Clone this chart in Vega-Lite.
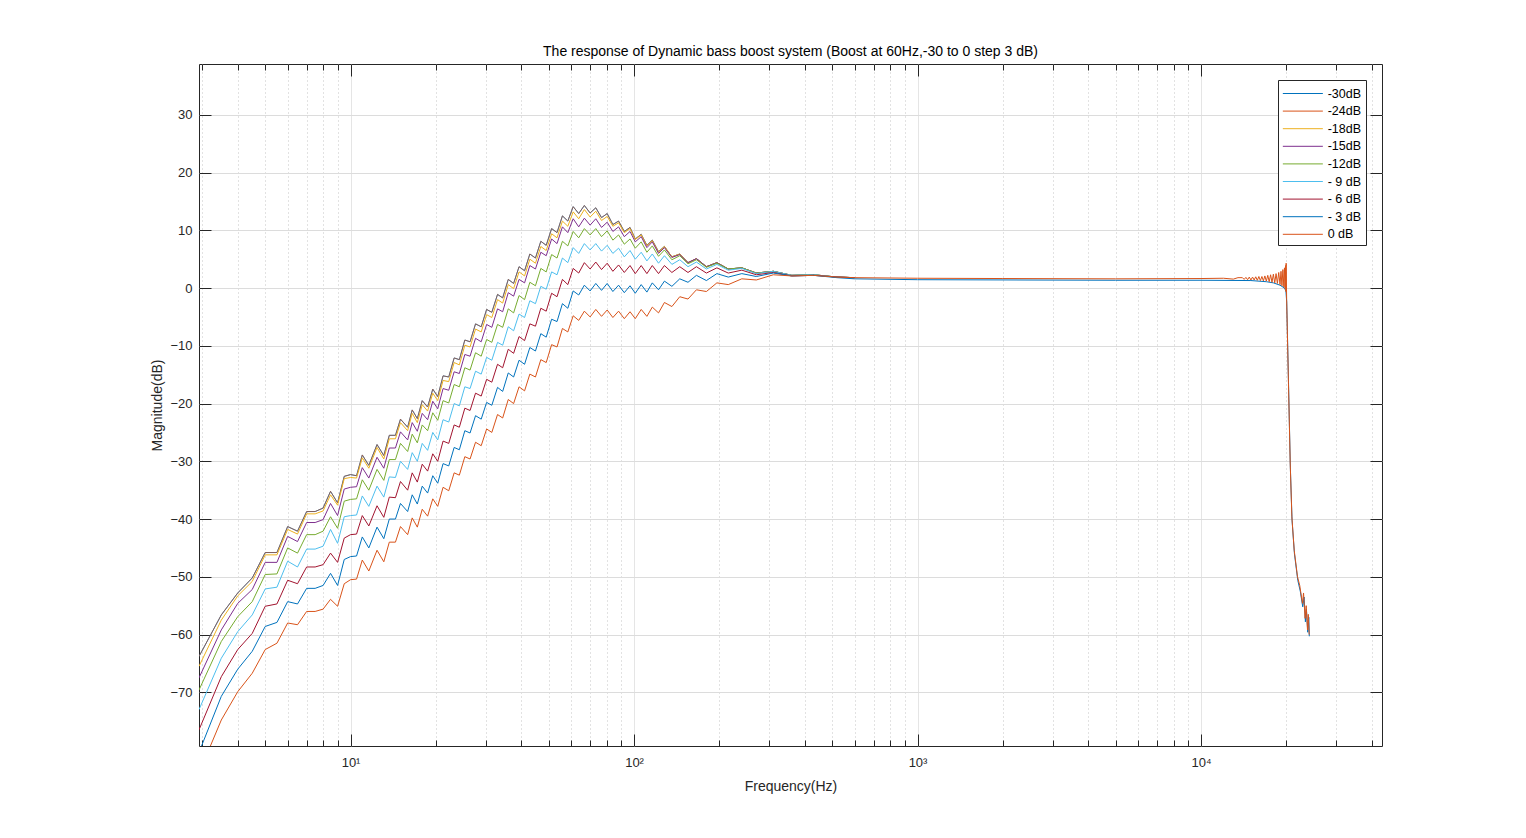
{
  "$schema": "https://vega.github.io/schema/vega-lite/v6.json",
  "width": 1183,
  "height": 682,
  "autosize": {"type": "none"},
  "padding": {"left": 199, "top": 64, "right": 144, "bottom": 92},
  "background": "white",
  "title": {
    "text": "The response of Dynamic bass boost system (Boost at 60Hz,-30 to 0 step 3 dB)",
    "font": "Liberation Sans",
    "fontSize": 14,
    "fontWeight": "normal",
    "color": "#000000",
    "offset": 5
  },
  "config": {
    "font": "Liberation Sans",
    "view": {"stroke": "#262626", "strokeWidth": 1},
    "axis": {
      "labelFont": "Liberation Sans",
      "titleFont": "Liberation Sans",
      "labelFontSize": 13,
      "titleFontSize": 14,
      "titleFontWeight": "normal",
      "labelColor": "#262626",
      "titleColor": "#262626",
      "tickColor": "#262626",
      "domain": false
    }
  },
  "layer": [
    {
      "data": {
        "values": [
          {"s":"-30dB","f":2.92,"db":-63.8},{"s":"-30dB","f":3.5,"db":-56.6},{"s":"-30dB","f":4,"db":-52.8},{"s":"-30dB","f":4.5,"db":-50.2},{"s":"-30dB","f":5,"db":-45.8},{"s":"-30dB","f":5.5,"db":-45.8},{"s":"-30dB","f":6,"db":-41.3},{"s":"-30dB","f":6.5,"db":-42.1},{"s":"-30dB","f":7,"db":-38.7},{"s":"-30dB","f":7.5,"db":-38.7},{"s":"-30dB","f":8,"db":-38.1},{"s":"-30dB","f":8.5,"db":-35.2},{"s":"-30dB","f":9,"db":-37.2},{"s":"-30dB","f":9.5,"db":-32.6},{"s":"-30dB","f":10,"db":-32.3},{"s":"-30dB","f":10.5,"db":-32.5},{"s":"-30dB","f":11,"db":-28.9},{"s":"-30dB","f":11.6,"db":-30.7},{"s":"-30dB","f":12.4,"db":-27.1},{"s":"-30dB","f":13.1,"db":-29.0},{"s":"-30dB","f":13.7,"db":-25.5},{"s":"-30dB","f":14.4,"db":-25.5},{"s":"-30dB","f":15,"db":-22.7},{"s":"-30dB","f":15.9,"db":-24.1},{"s":"-30dB","f":16.5,"db":-21.1},{"s":"-30dB","f":17.2,"db":-22.6},{"s":"-30dB","f":17.9,"db":-19.5},{"s":"-30dB","f":18.7,"db":-20.6},{"s":"-30dB","f":19.5,"db":-17.5},{"s":"-30dB","f":20.3,"db":-18.8},
          {"s":"-30dB","f":21.2,"db":-15.2},{"s":"-30dB","f":22.2,"db":-15.4},{"s":"-30dB","f":23.2,"db":-12.1},{"s":"-30dB","f":24.2,"db":-12.4},{"s":"-30dB","f":25.3,"db":-9.0},{"s":"-30dB","f":26.4,"db":-9.3},{"s":"-30dB","f":27.6,"db":-6.2},{"s":"-30dB","f":28.9,"db":-6.7},{"s":"-30dB","f":30.2,"db":-3.7},{"s":"-30dB","f":31.5,"db":-4.2},{"s":"-30dB","f":33,"db":-1.1},{"s":"-30dB","f":34.4,"db":-1.7},{"s":"-30dB","f":36,"db":1.5},{"s":"-30dB","f":37.6,"db":0.8},{"s":"-30dB","f":39.3,"db":3.7},{"s":"-30dB","f":41.1,"db":3.0},{"s":"-30dB","f":42.9,"db":5.9},{"s":"-30dB","f":44.9,"db":5.2},{"s":"-30dB","f":46.9,"db":8.1},{"s":"-30dB","f":49,"db":7.4},{"s":"-30dB","f":51.2,"db":10.3},{"s":"-30dB","f":53.5,"db":9.6},{"s":"-30dB","f":55.9,"db":12.5},{"s":"-30dB","f":58.4,"db":11.6},{"s":"-30dB","f":61,"db":14.1},{"s":"-30dB","f":63.8,"db":12.9},
          {"s":"-30dB","f":66.8,"db":14.3},{"s":"-30dB","f":70,"db":13.0},{"s":"-30dB","f":73.3,"db":13.9},{"s":"-30dB","f":76.8,"db":12.2},{"s":"-30dB","f":80.4,"db":12.9},{"s":"-30dB","f":84.2,"db":11.0},{"s":"-30dB","f":88.2,"db":11.6},{"s":"-30dB","f":92.4,"db":9.8},{"s":"-30dB","f":96.8,"db":10.5},{"s":"-30dB","f":101,"db":8.5},{"s":"-30dB","f":106,"db":9.3},{"s":"-30dB","f":111,"db":7.4},{"s":"-30dB","f":116,"db":8.3},{"s":"-30dB","f":122,"db":6.3},{"s":"-30dB","f":128,"db":7.2},{"s":"-30dB","f":136,"db":5.4},{"s":"-30dB","f":145,"db":5.9},{"s":"-30dB","f":155,"db":4.4},{"s":"-30dB","f":166,"db":5.1},{"s":"-30dB","f":180,"db":3.7},{"s":"-30dB","f":196,"db":4.4},{"s":"-30dB","f":215,"db":3.3},{"s":"-30dB","f":240,"db":3.5},{"s":"-30dB","f":270,"db":2.6},{"s":"-30dB","f":310,"db":2.9},{"s":"-30dB","f":360,"db":2.2},{"s":"-30dB","f":430,"db":2.3},{"s":"-30dB","f":520,"db":1.9},{"s":"-30dB","f":600,"db":1.8},

          {"s":"-24dB","f":2.92,"db":-63.8},{"s":"-24dB","f":3.5,"db":-56.6},{"s":"-24dB","f":4,"db":-52.8},{"s":"-24dB","f":4.5,"db":-50.2},{"s":"-24dB","f":5,"db":-45.8},{"s":"-24dB","f":5.5,"db":-45.8},{"s":"-24dB","f":6,"db":-41.3},{"s":"-24dB","f":6.5,"db":-42.1},{"s":"-24dB","f":7,"db":-38.7},{"s":"-24dB","f":7.5,"db":-38.7},{"s":"-24dB","f":8,"db":-38.1},{"s":"-24dB","f":8.5,"db":-35.2},{"s":"-24dB","f":9,"db":-37.2},{"s":"-24dB","f":9.5,"db":-32.6},{"s":"-24dB","f":10,"db":-32.3},{"s":"-24dB","f":10.5,"db":-32.5},{"s":"-24dB","f":11,"db":-28.9},{"s":"-24dB","f":11.6,"db":-30.7},{"s":"-24dB","f":12.4,"db":-27.1},{"s":"-24dB","f":13.1,"db":-29.0},{"s":"-24dB","f":13.7,"db":-25.5},{"s":"-24dB","f":14.4,"db":-25.5},{"s":"-24dB","f":15,"db":-22.7},{"s":"-24dB","f":15.9,"db":-24.1},{"s":"-24dB","f":16.5,"db":-21.1},{"s":"-24dB","f":17.2,"db":-22.6},{"s":"-24dB","f":17.9,"db":-19.5},{"s":"-24dB","f":18.7,"db":-20.6},{"s":"-24dB","f":19.5,"db":-17.5},{"s":"-24dB","f":20.3,"db":-18.8},
          {"s":"-24dB","f":21.2,"db":-15.2},{"s":"-24dB","f":22.2,"db":-15.4},{"s":"-24dB","f":23.2,"db":-12.1},{"s":"-24dB","f":24.2,"db":-12.4},{"s":"-24dB","f":25.3,"db":-9.0},{"s":"-24dB","f":26.4,"db":-9.3},{"s":"-24dB","f":27.6,"db":-6.2},{"s":"-24dB","f":28.9,"db":-6.7},{"s":"-24dB","f":30.2,"db":-3.7},{"s":"-24dB","f":31.5,"db":-4.2},{"s":"-24dB","f":33,"db":-1.1},{"s":"-24dB","f":34.4,"db":-1.7},{"s":"-24dB","f":36,"db":1.5},{"s":"-24dB","f":37.6,"db":0.8},{"s":"-24dB","f":39.3,"db":3.7},{"s":"-24dB","f":41.1,"db":3.0},{"s":"-24dB","f":42.9,"db":5.9},{"s":"-24dB","f":44.9,"db":5.2},{"s":"-24dB","f":46.9,"db":8.1},{"s":"-24dB","f":49,"db":7.4},{"s":"-24dB","f":51.2,"db":10.3},{"s":"-24dB","f":53.5,"db":9.6},{"s":"-24dB","f":55.9,"db":12.5},{"s":"-24dB","f":58.4,"db":11.6},{"s":"-24dB","f":61,"db":14.1},{"s":"-24dB","f":63.8,"db":12.9},
          {"s":"-24dB","f":66.8,"db":14.3},{"s":"-24dB","f":70,"db":13.0},{"s":"-24dB","f":73.3,"db":13.9},{"s":"-24dB","f":76.8,"db":12.2},{"s":"-24dB","f":80.4,"db":12.9},{"s":"-24dB","f":84.2,"db":11.0},{"s":"-24dB","f":88.2,"db":11.6},{"s":"-24dB","f":92.4,"db":9.8},{"s":"-24dB","f":96.8,"db":10.5},{"s":"-24dB","f":101,"db":8.5},{"s":"-24dB","f":106,"db":9.3},{"s":"-24dB","f":111,"db":7.4},{"s":"-24dB","f":116,"db":8.3},{"s":"-24dB","f":122,"db":6.3},{"s":"-24dB","f":128,"db":7.2},{"s":"-24dB","f":136,"db":5.4},{"s":"-24dB","f":145,"db":5.9},{"s":"-24dB","f":155,"db":4.4},{"s":"-24dB","f":166,"db":5.1},{"s":"-24dB","f":180,"db":3.7},{"s":"-24dB","f":196,"db":4.4},{"s":"-24dB","f":215,"db":3.3},{"s":"-24dB","f":240,"db":3.5},{"s":"-24dB","f":270,"db":2.6},{"s":"-24dB","f":310,"db":2.9},{"s":"-24dB","f":360,"db":2.2},{"s":"-24dB","f":430,"db":2.3},{"s":"-24dB","f":520,"db":1.9},{"s":"-24dB","f":600,"db":1.8},

          {"s":"-18dB","f":2.92,"db":-65.5},{"s":"-18dB","f":3.5,"db":-57.5},{"s":"-18dB","f":4,"db":-53.3},{"s":"-18dB","f":4.5,"db":-50.8},{"s":"-18dB","f":5,"db":-46.2},{"s":"-18dB","f":5.5,"db":-46.2},{"s":"-18dB","f":6,"db":-41.8},{"s":"-18dB","f":6.5,"db":-42.6},{"s":"-18dB","f":7,"db":-39.1},{"s":"-18dB","f":7.5,"db":-39.1},{"s":"-18dB","f":8,"db":-38.6},{"s":"-18dB","f":8.5,"db":-35.8},{"s":"-18dB","f":9,"db":-37.6},{"s":"-18dB","f":9.5,"db":-33.0},{"s":"-18dB","f":10,"db":-32.8},{"s":"-18dB","f":10.5,"db":-32.9},{"s":"-18dB","f":11,"db":-29.4},{"s":"-18dB","f":11.6,"db":-31.2},{"s":"-18dB","f":12.4,"db":-27.6},{"s":"-18dB","f":13.1,"db":-29.6},{"s":"-18dB","f":13.7,"db":-26.1},{"s":"-18dB","f":14.4,"db":-26.1},{"s":"-18dB","f":15,"db":-23.3},{"s":"-18dB","f":15.9,"db":-24.7},{"s":"-18dB","f":16.5,"db":-21.7},{"s":"-18dB","f":17.2,"db":-23.3},{"s":"-18dB","f":17.9,"db":-20.2},{"s":"-18dB","f":18.7,"db":-21.3},{"s":"-18dB","f":19.5,"db":-18.2},{"s":"-18dB","f":20.3,"db":-19.5},
          {"s":"-18dB","f":21.2,"db":-16.0},{"s":"-18dB","f":22.2,"db":-16.2},{"s":"-18dB","f":23.2,"db":-12.9},{"s":"-18dB","f":24.2,"db":-13.3},{"s":"-18dB","f":25.3,"db":-9.9},{"s":"-18dB","f":26.4,"db":-10.2},{"s":"-18dB","f":27.6,"db":-7.1},{"s":"-18dB","f":28.9,"db":-7.6},{"s":"-18dB","f":30.2,"db":-4.6},{"s":"-18dB","f":31.5,"db":-5.1},{"s":"-18dB","f":33,"db":-2.0},{"s":"-18dB","f":34.4,"db":-2.6},{"s":"-18dB","f":36,"db":0.6},{"s":"-18dB","f":37.6,"db":-0.1},{"s":"-18dB","f":39.3,"db":2.8},{"s":"-18dB","f":41.1,"db":2.1},{"s":"-18dB","f":42.9,"db":5.0},{"s":"-18dB","f":44.9,"db":4.3},{"s":"-18dB","f":46.9,"db":7.2},{"s":"-18dB","f":49,"db":6.5},{"s":"-18dB","f":51.2,"db":9.4},{"s":"-18dB","f":53.5,"db":8.7},{"s":"-18dB","f":55.9,"db":11.6},{"s":"-18dB","f":58.4,"db":10.7},{"s":"-18dB","f":61,"db":13.2},{"s":"-18dB","f":63.8,"db":12.0},
          {"s":"-18dB","f":66.8,"db":13.6},{"s":"-18dB","f":70,"db":12.3},{"s":"-18dB","f":73.3,"db":13.3},{"s":"-18dB","f":76.8,"db":11.7},{"s":"-18dB","f":80.4,"db":12.4},{"s":"-18dB","f":84.2,"db":10.7},{"s":"-18dB","f":88.2,"db":11.3},{"s":"-18dB","f":92.4,"db":9.6},{"s":"-18dB","f":96.8,"db":10.3},{"s":"-18dB","f":101,"db":8.4},{"s":"-18dB","f":106,"db":9.2},{"s":"-18dB","f":111,"db":7.3},{"s":"-18dB","f":116,"db":8.2},{"s":"-18dB","f":122,"db":6.2},{"s":"-18dB","f":128,"db":7.2},{"s":"-18dB","f":136,"db":5.4},{"s":"-18dB","f":145,"db":5.9},{"s":"-18dB","f":155,"db":4.4},{"s":"-18dB","f":166,"db":5.1},{"s":"-18dB","f":180,"db":3.7},{"s":"-18dB","f":196,"db":4.4},{"s":"-18dB","f":215,"db":3.3},{"s":"-18dB","f":240,"db":3.5},{"s":"-18dB","f":270,"db":2.6},{"s":"-18dB","f":310,"db":2.9},{"s":"-18dB","f":360,"db":2.2},{"s":"-18dB","f":430,"db":2.3},{"s":"-18dB","f":520,"db":1.9},{"s":"-18dB","f":600,"db":1.8},

          {"s":"-15dB","f":2.92,"db":-67.5},{"s":"-15dB","f":3.5,"db":-59.2},{"s":"-15dB","f":4,"db":-54.6},{"s":"-15dB","f":4.5,"db":-52.2},{"s":"-15dB","f":5,"db":-47.5},{"s":"-15dB","f":5.5,"db":-47.5},{"s":"-15dB","f":6,"db":-43.0},{"s":"-15dB","f":6.5,"db":-43.9},{"s":"-15dB","f":7,"db":-40.6},{"s":"-15dB","f":7.5,"db":-40.6},{"s":"-15dB","f":8,"db":-40.1},{"s":"-15dB","f":8.5,"db":-37.3},{"s":"-15dB","f":9,"db":-39.4},{"s":"-15dB","f":9.5,"db":-34.8},{"s":"-15dB","f":10,"db":-34.5},{"s":"-15dB","f":10.5,"db":-34.4},{"s":"-15dB","f":11,"db":-31.1},{"s":"-15dB","f":11.6,"db":-32.9},{"s":"-15dB","f":12.4,"db":-29.3},{"s":"-15dB","f":13.1,"db":-31.2},{"s":"-15dB","f":13.7,"db":-27.7},{"s":"-15dB","f":14.4,"db":-27.7},{"s":"-15dB","f":15,"db":-24.9},{"s":"-15dB","f":15.9,"db":-26.3},{"s":"-15dB","f":16.5,"db":-23.3},{"s":"-15dB","f":17.2,"db":-24.8},{"s":"-15dB","f":17.9,"db":-21.7},{"s":"-15dB","f":18.7,"db":-22.8},{"s":"-15dB","f":19.5,"db":-19.6},{"s":"-15dB","f":20.3,"db":-20.9},
          {"s":"-15dB","f":21.2,"db":-17.4},{"s":"-15dB","f":22.2,"db":-17.7},{"s":"-15dB","f":23.2,"db":-14.5},{"s":"-15dB","f":24.2,"db":-14.8},{"s":"-15dB","f":25.3,"db":-11.5},{"s":"-15dB","f":26.4,"db":-11.8},{"s":"-15dB","f":27.6,"db":-8.7},{"s":"-15dB","f":28.9,"db":-9.3},{"s":"-15dB","f":30.2,"db":-6.3},{"s":"-15dB","f":31.5,"db":-6.8},{"s":"-15dB","f":33,"db":-3.6},{"s":"-15dB","f":34.4,"db":-4.1},{"s":"-15dB","f":36,"db":-0.8},{"s":"-15dB","f":37.6,"db":-1.4},{"s":"-15dB","f":39.3,"db":1.5},{"s":"-15dB","f":41.1,"db":0.9},{"s":"-15dB","f":42.9,"db":3.9},{"s":"-15dB","f":44.9,"db":3.3},{"s":"-15dB","f":46.9,"db":6.2},{"s":"-15dB","f":49,"db":5.6},{"s":"-15dB","f":51.2,"db":8.5},{"s":"-15dB","f":53.5,"db":7.7},{"s":"-15dB","f":55.9,"db":10.6},{"s":"-15dB","f":58.4,"db":9.6},{"s":"-15dB","f":61,"db":12.0},{"s":"-15dB","f":63.8,"db":10.6},
          {"s":"-15dB","f":66.8,"db":12.1},{"s":"-15dB","f":70,"db":10.9},{"s":"-15dB","f":73.3,"db":12.0},{"s":"-15dB","f":76.8,"db":10.5},{"s":"-15dB","f":80.4,"db":11.4},{"s":"-15dB","f":84.2,"db":9.8},{"s":"-15dB","f":88.2,"db":10.6},{"s":"-15dB","f":92.4,"db":8.9},{"s":"-15dB","f":96.8,"db":9.8},{"s":"-15dB","f":101,"db":8.0},{"s":"-15dB","f":106,"db":8.9},{"s":"-15dB","f":111,"db":7.0},{"s":"-15dB","f":116,"db":8.0},{"s":"-15dB","f":122,"db":6.0},{"s":"-15dB","f":128,"db":7.0},{"s":"-15dB","f":136,"db":5.3},{"s":"-15dB","f":145,"db":5.8},{"s":"-15dB","f":155,"db":4.4},{"s":"-15dB","f":166,"db":5.1},{"s":"-15dB","f":180,"db":3.7},{"s":"-15dB","f":196,"db":4.4},{"s":"-15dB","f":215,"db":3.3},{"s":"-15dB","f":240,"db":3.5},{"s":"-15dB","f":270,"db":2.6},{"s":"-15dB","f":310,"db":2.9},{"s":"-15dB","f":360,"db":2.2},{"s":"-15dB","f":430,"db":2.3},{"s":"-15dB","f":520,"db":1.9},{"s":"-15dB","f":600,"db":1.8},

          {"s":"-12dB","f":2.92,"db":-69.6},{"s":"-12dB","f":3.5,"db":-61.2},{"s":"-12dB","f":4,"db":-56.9},{"s":"-12dB","f":4.5,"db":-54.3},{"s":"-12dB","f":5,"db":-49.6},{"s":"-12dB","f":5.5,"db":-49.5},{"s":"-12dB","f":6,"db":-45.0},{"s":"-12dB","f":6.5,"db":-45.9},{"s":"-12dB","f":7,"db":-42.7},{"s":"-12dB","f":7.5,"db":-42.7},{"s":"-12dB","f":8,"db":-42.1},{"s":"-12dB","f":8.5,"db":-39.6},{"s":"-12dB","f":9,"db":-41.6},{"s":"-12dB","f":9.5,"db":-36.9},{"s":"-12dB","f":10,"db":-36.6},{"s":"-12dB","f":10.5,"db":-36.5},{"s":"-12dB","f":11,"db":-33.2},{"s":"-12dB","f":11.6,"db":-35.0},{"s":"-12dB","f":12.4,"db":-31.4},{"s":"-12dB","f":13.1,"db":-33.3},{"s":"-12dB","f":13.7,"db":-29.7},{"s":"-12dB","f":14.4,"db":-29.7},{"s":"-12dB","f":15,"db":-26.9},{"s":"-12dB","f":15.9,"db":-28.3},{"s":"-12dB","f":16.5,"db":-25.3},{"s":"-12dB","f":17.2,"db":-26.8},{"s":"-12dB","f":17.9,"db":-23.7},{"s":"-12dB","f":18.7,"db":-24.7},{"s":"-12dB","f":19.5,"db":-21.6},{"s":"-12dB","f":20.3,"db":-22.9},
          {"s":"-12dB","f":21.2,"db":-19.5},{"s":"-12dB","f":22.2,"db":-19.9},{"s":"-12dB","f":23.2,"db":-16.7},{"s":"-12dB","f":24.2,"db":-17.1},{"s":"-12dB","f":25.3,"db":-13.8},{"s":"-12dB","f":26.4,"db":-14.2},{"s":"-12dB","f":27.6,"db":-11.2},{"s":"-12dB","f":28.9,"db":-11.8},{"s":"-12dB","f":30.2,"db":-8.9},{"s":"-12dB","f":31.5,"db":-9.4},{"s":"-12dB","f":33,"db":-6.3},{"s":"-12dB","f":34.4,"db":-6.8},{"s":"-12dB","f":36,"db":-3.6},{"s":"-12dB","f":37.6,"db":-4.3},{"s":"-12dB","f":39.3,"db":-1.3},{"s":"-12dB","f":41.1,"db":-2.0},{"s":"-12dB","f":42.9,"db":1.0},{"s":"-12dB","f":44.9,"db":0.4},{"s":"-12dB","f":46.9,"db":3.4},{"s":"-12dB","f":49,"db":2.8},{"s":"-12dB","f":51.2,"db":5.8},{"s":"-12dB","f":53.5,"db":5.2},{"s":"-12dB","f":55.9,"db":8.1},{"s":"-12dB","f":58.4,"db":7.3},{"s":"-12dB","f":61,"db":9.8},{"s":"-12dB","f":63.8,"db":8.7},
          {"s":"-12dB","f":66.8,"db":10.3},{"s":"-12dB","f":70,"db":9.2},{"s":"-12dB","f":73.3,"db":10.3},{"s":"-12dB","f":76.8,"db":8.9},{"s":"-12dB","f":80.4,"db":9.9},{"s":"-12dB","f":84.2,"db":8.3},{"s":"-12dB","f":88.2,"db":9.2},{"s":"-12dB","f":92.4,"db":7.6},{"s":"-12dB","f":96.8,"db":8.5},{"s":"-12dB","f":101,"db":6.9},{"s":"-12dB","f":106,"db":8.0},{"s":"-12dB","f":111,"db":6.2},{"s":"-12dB","f":116,"db":7.3},{"s":"-12dB","f":122,"db":5.5},{"s":"-12dB","f":128,"db":6.6},{"s":"-12dB","f":136,"db":4.9},{"s":"-12dB","f":145,"db":5.6},{"s":"-12dB","f":155,"db":4.2},{"s":"-12dB","f":166,"db":4.9},{"s":"-12dB","f":180,"db":3.6},{"s":"-12dB","f":196,"db":4.3},{"s":"-12dB","f":215,"db":3.3},{"s":"-12dB","f":240,"db":3.5},{"s":"-12dB","f":270,"db":2.6},{"s":"-12dB","f":310,"db":2.9},{"s":"-12dB","f":360,"db":2.2},{"s":"-12dB","f":430,"db":2.3},{"s":"-12dB","f":520,"db":1.9},{"s":"-12dB","f":600,"db":1.8},

          {"s":"- 9 dB","f":2.92,"db":-73.0},{"s":"- 9 dB","f":3.5,"db":-64.1},{"s":"- 9 dB","f":4,"db":-59.5},{"s":"- 9 dB","f":4.5,"db":-56.6},{"s":"- 9 dB","f":5,"db":-52.1},{"s":"- 9 dB","f":5.5,"db":-51.8},{"s":"- 9 dB","f":6,"db":-47.3},{"s":"- 9 dB","f":6.5,"db":-48.3},{"s":"- 9 dB","f":7,"db":-45.2},{"s":"- 9 dB","f":7.5,"db":-45.2},{"s":"- 9 dB","f":8,"db":-44.7},{"s":"- 9 dB","f":8.5,"db":-41.8},{"s":"- 9 dB","f":9,"db":-44.2},{"s":"- 9 dB","f":9.5,"db":-39.6},{"s":"- 9 dB","f":10,"db":-39.4},{"s":"- 9 dB","f":10.5,"db":-39.3},{"s":"- 9 dB","f":11,"db":-36.0},{"s":"- 9 dB","f":11.6,"db":-37.8},{"s":"- 9 dB","f":12.4,"db":-34.3},{"s":"- 9 dB","f":13.1,"db":-36.2},{"s":"- 9 dB","f":13.7,"db":-32.7},{"s":"- 9 dB","f":14.4,"db":-32.8},{"s":"- 9 dB","f":15,"db":-30.0},{"s":"- 9 dB","f":15.9,"db":-31.4},{"s":"- 9 dB","f":16.5,"db":-28.5},{"s":"- 9 dB","f":17.2,"db":-30.0},{"s":"- 9 dB","f":17.9,"db":-26.9},{"s":"- 9 dB","f":18.7,"db":-28.1},{"s":"- 9 dB","f":19.5,"db":-25.0},{"s":"- 9 dB","f":20.3,"db":-26.3},
          {"s":"- 9 dB","f":21.2,"db":-22.8},{"s":"- 9 dB","f":22.2,"db":-23.2},{"s":"- 9 dB","f":23.2,"db":-20.0},{"s":"- 9 dB","f":24.2,"db":-20.4},{"s":"- 9 dB","f":25.3,"db":-17.1},{"s":"- 9 dB","f":26.4,"db":-17.4},{"s":"- 9 dB","f":27.6,"db":-14.4},{"s":"- 9 dB","f":28.9,"db":-14.9},{"s":"- 9 dB","f":30.2,"db":-12.0},{"s":"- 9 dB","f":31.5,"db":-12.5},{"s":"- 9 dB","f":33,"db":-9.4},{"s":"- 9 dB","f":34.4,"db":-9.9},{"s":"- 9 dB","f":36,"db":-6.7},{"s":"- 9 dB","f":37.6,"db":-7.4},{"s":"- 9 dB","f":39.3,"db":-4.5},{"s":"- 9 dB","f":41.1,"db":-5.1},{"s":"- 9 dB","f":42.9,"db":-2.2},{"s":"- 9 dB","f":44.9,"db":-2.7},{"s":"- 9 dB","f":46.9,"db":0.3},{"s":"- 9 dB","f":49,"db":-0.2},{"s":"- 9 dB","f":51.2,"db":2.8},{"s":"- 9 dB","f":53.5,"db":2.3},{"s":"- 9 dB","f":55.9,"db":5.2},{"s":"- 9 dB","f":58.4,"db":4.4},{"s":"- 9 dB","f":61,"db":7.0},{"s":"- 9 dB","f":63.8,"db":6.0},
          {"s":"- 9 dB","f":66.8,"db":7.7},{"s":"- 9 dB","f":70,"db":6.6},{"s":"- 9 dB","f":73.3,"db":7.7},{"s":"- 9 dB","f":76.8,"db":6.4},{"s":"- 9 dB","f":80.4,"db":7.4},{"s":"- 9 dB","f":84.2,"db":6.0},{"s":"- 9 dB","f":88.2,"db":6.9},{"s":"- 9 dB","f":92.4,"db":5.4},{"s":"- 9 dB","f":96.8,"db":6.5},{"s":"- 9 dB","f":101,"db":5.0},{"s":"- 9 dB","f":106,"db":6.2},{"s":"- 9 dB","f":111,"db":4.7},{"s":"- 9 dB","f":116,"db":5.9},{"s":"- 9 dB","f":122,"db":4.3},{"s":"- 9 dB","f":128,"db":5.6},{"s":"- 9 dB","f":136,"db":4.1},{"s":"- 9 dB","f":145,"db":4.9},{"s":"- 9 dB","f":155,"db":3.7},{"s":"- 9 dB","f":166,"db":4.5},{"s":"- 9 dB","f":180,"db":3.3},{"s":"- 9 dB","f":196,"db":4.1},{"s":"- 9 dB","f":215,"db":3.1},{"s":"- 9 dB","f":240,"db":3.4},{"s":"- 9 dB","f":270,"db":2.5},{"s":"- 9 dB","f":310,"db":2.9},{"s":"- 9 dB","f":360,"db":2.2},{"s":"- 9 dB","f":430,"db":2.3},{"s":"- 9 dB","f":520,"db":1.9},{"s":"- 9 dB","f":600,"db":1.8},

          {"s":"- 6 dB","f":2.92,"db":-76.5},{"s":"- 6 dB","f":3.5,"db":-67.3},{"s":"- 6 dB","f":4,"db":-62.6},{"s":"- 6 dB","f":4.5,"db":-59.8},{"s":"- 6 dB","f":5,"db":-55.1},{"s":"- 6 dB","f":5.5,"db":-54.7},{"s":"- 6 dB","f":6,"db":-50.6},{"s":"- 6 dB","f":6.5,"db":-51.2},{"s":"- 6 dB","f":7,"db":-48.3},{"s":"- 6 dB","f":7.5,"db":-48.3},{"s":"- 6 dB","f":8,"db":-47.9},{"s":"- 6 dB","f":8.5,"db":-45.9},{"s":"- 6 dB","f":9,"db":-47.5},{"s":"- 6 dB","f":9.5,"db":-43.3},{"s":"- 6 dB","f":10,"db":-42.7},{"s":"- 6 dB","f":10.5,"db":-42.6},{"s":"- 6 dB","f":11,"db":-39.4},{"s":"- 6 dB","f":11.6,"db":-41.2},{"s":"- 6 dB","f":12.4,"db":-37.7},{"s":"- 6 dB","f":13.1,"db":-39.7},{"s":"- 6 dB","f":13.7,"db":-36.2},{"s":"- 6 dB","f":14.4,"db":-36.3},{"s":"- 6 dB","f":15,"db":-33.5},{"s":"- 6 dB","f":15.9,"db":-35.0},{"s":"- 6 dB","f":16.5,"db":-32.0},{"s":"- 6 dB","f":17.2,"db":-33.6},{"s":"- 6 dB","f":17.9,"db":-30.5},{"s":"- 6 dB","f":18.7,"db":-31.7},{"s":"- 6 dB","f":19.5,"db":-28.7},{"s":"- 6 dB","f":20.3,"db":-30.0},
          {"s":"- 6 dB","f":21.2,"db":-26.5},{"s":"- 6 dB","f":22.2,"db":-26.9},{"s":"- 6 dB","f":23.2,"db":-23.7},{"s":"- 6 dB","f":24.2,"db":-24.1},{"s":"- 6 dB","f":25.3,"db":-20.8},{"s":"- 6 dB","f":26.4,"db":-21.2},{"s":"- 6 dB","f":27.6,"db":-18.2},{"s":"- 6 dB","f":28.9,"db":-18.7},{"s":"- 6 dB","f":30.2,"db":-15.8},{"s":"- 6 dB","f":31.5,"db":-16.3},{"s":"- 6 dB","f":33,"db":-13.2},{"s":"- 6 dB","f":34.4,"db":-13.8},{"s":"- 6 dB","f":36,"db":-10.6},{"s":"- 6 dB","f":37.6,"db":-11.3},{"s":"- 6 dB","f":39.3,"db":-8.4},{"s":"- 6 dB","f":41.1,"db":-9.1},{"s":"- 6 dB","f":42.9,"db":-6.2},{"s":"- 6 dB","f":44.9,"db":-6.6},{"s":"- 6 dB","f":46.9,"db":-3.5},{"s":"- 6 dB","f":49,"db":-4.0},{"s":"- 6 dB","f":51.2,"db":-0.9},{"s":"- 6 dB","f":53.5,"db":-1.5},{"s":"- 6 dB","f":55.9,"db":1.5},{"s":"- 6 dB","f":58.4,"db":0.6},{"s":"- 6 dB","f":61,"db":3.4},{"s":"- 6 dB","f":63.8,"db":2.6},
          {"s":"- 6 dB","f":66.8,"db":4.4},{"s":"- 6 dB","f":70,"db":3.3},{"s":"- 6 dB","f":73.3,"db":4.5},{"s":"- 6 dB","f":76.8,"db":3.2},{"s":"- 6 dB","f":80.4,"db":4.3},{"s":"- 6 dB","f":84.2,"db":2.9},{"s":"- 6 dB","f":88.2,"db":4.0},{"s":"- 6 dB","f":92.4,"db":2.7},{"s":"- 6 dB","f":96.8,"db":3.9},{"s":"- 6 dB","f":101,"db":2.5},{"s":"- 6 dB","f":106,"db":3.9},{"s":"- 6 dB","f":111,"db":2.5},{"s":"- 6 dB","f":116,"db":3.9},{"s":"- 6 dB","f":122,"db":2.5},{"s":"- 6 dB","f":128,"db":3.9},{"s":"- 6 dB","f":136,"db":2.7},{"s":"- 6 dB","f":145,"db":3.7},{"s":"- 6 dB","f":155,"db":2.7},{"s":"- 6 dB","f":166,"db":3.7},{"s":"- 6 dB","f":180,"db":2.6},{"s":"- 6 dB","f":196,"db":3.5},{"s":"- 6 dB","f":215,"db":2.6},{"s":"- 6 dB","f":240,"db":3.1},{"s":"- 6 dB","f":270,"db":2.3},{"s":"- 6 dB","f":310,"db":2.7},{"s":"- 6 dB","f":360,"db":2.1},{"s":"- 6 dB","f":430,"db":2.2},{"s":"- 6 dB","f":520,"db":1.9},{"s":"- 6 dB","f":600,"db":1.8},

          {"s":"- 3 dB","f":2.92,"db":-80.4},{"s":"- 3 dB","f":3.5,"db":-70.7},{"s":"- 3 dB","f":4,"db":-66.0},{"s":"- 3 dB","f":4.5,"db":-62.9},{"s":"- 3 dB","f":5,"db":-58.6},{"s":"- 3 dB","f":5.5,"db":-57.9},{"s":"- 3 dB","f":6,"db":-54.3},{"s":"- 3 dB","f":6.5,"db":-54.7},{"s":"- 3 dB","f":7,"db":-52.0},{"s":"- 3 dB","f":7.5,"db":-52.0},{"s":"- 3 dB","f":8,"db":-51.5},{"s":"- 3 dB","f":8.5,"db":-49.4},{"s":"- 3 dB","f":9,"db":-51.5},{"s":"- 3 dB","f":9.5,"db":-47.0},{"s":"- 3 dB","f":10,"db":-46.5},{"s":"- 3 dB","f":10.5,"db":-46.4},{"s":"- 3 dB","f":11,"db":-43.1},{"s":"- 3 dB","f":11.6,"db":-45.0},{"s":"- 3 dB","f":12.4,"db":-41.4},{"s":"- 3 dB","f":13.1,"db":-43.4},{"s":"- 3 dB","f":13.7,"db":-40.0},{"s":"- 3 dB","f":14.4,"db":-40.0},{"s":"- 3 dB","f":15,"db":-37.3},{"s":"- 3 dB","f":15.9,"db":-38.7},{"s":"- 3 dB","f":16.5,"db":-35.8},{"s":"- 3 dB","f":17.2,"db":-37.4},{"s":"- 3 dB","f":17.9,"db":-34.3},{"s":"- 3 dB","f":18.7,"db":-35.5},{"s":"- 3 dB","f":19.5,"db":-32.5},{"s":"- 3 dB","f":20.3,"db":-33.8},
          {"s":"- 3 dB","f":21.2,"db":-30.4},{"s":"- 3 dB","f":22.2,"db":-30.8},{"s":"- 3 dB","f":23.2,"db":-27.6},{"s":"- 3 dB","f":24.2,"db":-28.0},{"s":"- 3 dB","f":25.3,"db":-24.7},{"s":"- 3 dB","f":26.4,"db":-25.1},{"s":"- 3 dB","f":27.6,"db":-22.1},{"s":"- 3 dB","f":28.9,"db":-22.7},{"s":"- 3 dB","f":30.2,"db":-19.8},{"s":"- 3 dB","f":31.5,"db":-20.3},{"s":"- 3 dB","f":33,"db":-17.2},{"s":"- 3 dB","f":34.4,"db":-17.9},{"s":"- 3 dB","f":36,"db":-14.7},{"s":"- 3 dB","f":37.6,"db":-15.4},{"s":"- 3 dB","f":39.3,"db":-12.5},{"s":"- 3 dB","f":41.1,"db":-13.2},{"s":"- 3 dB","f":42.9,"db":-10.3},{"s":"- 3 dB","f":44.9,"db":-10.9},{"s":"- 3 dB","f":46.9,"db":-7.9},{"s":"- 3 dB","f":49,"db":-8.5},{"s":"- 3 dB","f":51.2,"db":-5.4},{"s":"- 3 dB","f":53.5,"db":-5.8},{"s":"- 3 dB","f":55.9,"db":-2.7},{"s":"- 3 dB","f":58.4,"db":-3.5},{"s":"- 3 dB","f":61,"db":-0.5},{"s":"- 3 dB","f":63.8,"db":-1.2},
          {"s":"- 3 dB","f":66.8,"db":0.5},{"s":"- 3 dB","f":70,"db":-0.5},{"s":"- 3 dB","f":73.3,"db":0.8},{"s":"- 3 dB","f":76.8,"db":-0.4},{"s":"- 3 dB","f":80.4,"db":0.8},{"s":"- 3 dB","f":84.2,"db":-0.6},{"s":"- 3 dB","f":88.2,"db":0.5},{"s":"- 3 dB","f":92.4,"db":-0.8},{"s":"- 3 dB","f":96.8,"db":0.4},{"s":"- 3 dB","f":101,"db":-0.9},{"s":"- 3 dB","f":106,"db":0.6},{"s":"- 3 dB","f":111,"db":-0.7},{"s":"- 3 dB","f":116,"db":0.9},{"s":"- 3 dB","f":122,"db":-0.3},{"s":"- 3 dB","f":128,"db":1.2},{"s":"- 3 dB","f":136,"db":0.3},{"s":"- 3 dB","f":145,"db":1.6},{"s":"- 3 dB","f":155,"db":1.0},{"s":"- 3 dB","f":166,"db":2.2},{"s":"- 3 dB","f":180,"db":1.3},{"s":"- 3 dB","f":196,"db":2.5},{"s":"- 3 dB","f":215,"db":1.9},{"s":"- 3 dB","f":240,"db":2.5},{"s":"- 3 dB","f":270,"db":2.0},{"s":"- 3 dB","f":310,"db":2.6},{"s":"- 3 dB","f":360,"db":2.1},{"s":"- 3 dB","f":430,"db":2.2},{"s":"- 3 dB","f":520,"db":1.8},{"s":"- 3 dB","f":600,"db":1.6},
          {"s":"- 3 dB","f":1000,"db":1.45},{"s":"- 3 dB","f":5000,"db":1.35},{"s":"- 3 dB","f":10000,"db":1.35},{"s":"- 3 dB","f":15000,"db":1.3},{"s":"- 3 dB","f":17000,"db":1.1},{"s":"- 3 dB","f":18000,"db":0.9},{"s":"- 3 dB","f":19000,"db":0.5},{"s":"- 3 dB","f":19700,"db":0.0},{"s":"- 3 dB","f":19930,"db":-0.5},{"s":"- 3 dB","f":20060,"db":-2.4},{"s":"- 3 dB","f":20370,"db":-17.0},{"s":"- 3 dB","f":20660,"db":-31.0},{"s":"- 3 dB","f":20950,"db":-40.2},{"s":"- 3 dB","f":21360,"db":-46.0},{"s":"- 3 dB","f":21950,"db":-50.6},{"s":"- 3 dB","f":22400,"db":-52.5},{"s":"- 3 dB","f":22850,"db":-55.2},{"s":"- 3 dB","f":23100,"db":-53.5},{"s":"- 3 dB","f":23350,"db":-57.8},{"s":"- 3 dB","f":23550,"db":-55.6},{"s":"- 3 dB","f":23800,"db":-59.6},{"s":"- 3 dB","f":24000,"db":-57.0},{"s":"- 3 dB","f":24100,"db":-60.3},

          {"s":"0 dB","f":2.92,"db":-84.0},{"s":"0 dB","f":3.5,"db":-74.8},{"s":"0 dB","f":4,"db":-69.9},{"s":"0 dB","f":4.5,"db":-66.7},{"s":"0 dB","f":5,"db":-62.6},{"s":"0 dB","f":5.5,"db":-61.5},{"s":"0 dB","f":6,"db":-58.0},{"s":"0 dB","f":6.5,"db":-58.3},{"s":"0 dB","f":7,"db":-56.0},{"s":"0 dB","f":7.5,"db":-56.0},{"s":"0 dB","f":8,"db":-55.6},{"s":"0 dB","f":8.5,"db":-53.9},{"s":"0 dB","f":9,"db":-55.1},{"s":"0 dB","f":9.5,"db":-51.2},{"s":"0 dB","f":10,"db":-50.5},{"s":"0 dB","f":10.5,"db":-50.4},{"s":"0 dB","f":11,"db":-47.1},{"s":"0 dB","f":11.6,"db":-49.0},{"s":"0 dB","f":12.4,"db":-45.4},{"s":"0 dB","f":13.1,"db":-47.4},{"s":"0 dB","f":13.7,"db":-44.0},{"s":"0 dB","f":14.4,"db":-44.0},{"s":"0 dB","f":15,"db":-41.3},{"s":"0 dB","f":15.9,"db":-42.7},{"s":"0 dB","f":16.5,"db":-39.8},{"s":"0 dB","f":17.2,"db":-41.4},{"s":"0 dB","f":17.9,"db":-38.3},{"s":"0 dB","f":18.7,"db":-39.5},{"s":"0 dB","f":19.5,"db":-36.5},{"s":"0 dB","f":20.3,"db":-37.8},
          {"s":"0 dB","f":21.2,"db":-34.5},{"s":"0 dB","f":22.2,"db":-35.1},{"s":"0 dB","f":23.2,"db":-32.0},{"s":"0 dB","f":24.2,"db":-32.4},{"s":"0 dB","f":25.3,"db":-29.2},{"s":"0 dB","f":26.4,"db":-29.6},{"s":"0 dB","f":27.6,"db":-26.7},{"s":"0 dB","f":28.9,"db":-27.3},{"s":"0 dB","f":30.2,"db":-24.4},{"s":"0 dB","f":31.5,"db":-25.0},{"s":"0 dB","f":33,"db":-21.9},{"s":"0 dB","f":34.4,"db":-22.5},{"s":"0 dB","f":36,"db":-19.3},{"s":"0 dB","f":37.6,"db":-20.0},{"s":"0 dB","f":39.3,"db":-17.1},{"s":"0 dB","f":41.1,"db":-17.8},{"s":"0 dB","f":42.9,"db":-14.9},{"s":"0 dB","f":44.9,"db":-15.4},{"s":"0 dB","f":46.9,"db":-12.4},{"s":"0 dB","f":49,"db":-12.9},{"s":"0 dB","f":51.2,"db":-9.8},{"s":"0 dB","f":53.5,"db":-10.2},{"s":"0 dB","f":55.9,"db":-7.0},{"s":"0 dB","f":58.4,"db":-7.6},{"s":"0 dB","f":61,"db":-4.8},{"s":"0 dB","f":63.8,"db":-5.6},
          {"s":"0 dB","f":66.8,"db":-4.0},{"s":"0 dB","f":70,"db":-5.0},{"s":"0 dB","f":73.3,"db":-3.7},{"s":"0 dB","f":76.8,"db":-4.9},{"s":"0 dB","f":80.4,"db":-3.8},{"s":"0 dB","f":84.2,"db":-5.1},{"s":"0 dB","f":88.2,"db":-4.0},{"s":"0 dB","f":92.4,"db":-5.3},{"s":"0 dB","f":96.8,"db":-4.1},{"s":"0 dB","f":101,"db":-5.3},{"s":"0 dB","f":106,"db":-3.7},{"s":"0 dB","f":111,"db":-4.9},{"s":"0 dB","f":116,"db":-3.3},{"s":"0 dB","f":122,"db":-4.3},{"s":"0 dB","f":128,"db":-2.5},{"s":"0 dB","f":136,"db":-3.2},{"s":"0 dB","f":145,"db":-1.5},{"s":"0 dB","f":155,"db":-1.9},{"s":"0 dB","f":166,"db":-0.3},{"s":"0 dB","f":180,"db":-0.6},{"s":"0 dB","f":196,"db":0.9},{"s":"0 dB","f":215,"db":0.6},{"s":"0 dB","f":240,"db":1.6},{"s":"0 dB","f":270,"db":1.4},{"s":"0 dB","f":310,"db":2.3},{"s":"0 dB","f":360,"db":2.1},{"s":"0 dB","f":430,"db":2.2},{"s":"0 dB","f":520,"db":1.9},{"s":"0 dB","f":600,"db":1.8},
          {"s":"0 dB","f":1000,"db":1.7},{"s":"0 dB","f":2000,"db":1.65},{"s":"0 dB","f":5000,"db":1.6},{"s":"0 dB","f":10000,"db":1.65},{"s":"0 dB","f":12000,"db":1.7},{"s":"0 dB","f":13000,"db":1.55},{"s":"0 dB","f":13500,"db":1.8},
          {"s":"0 dB","f":14000,"db":1.8},{"s":"0 dB","f":14200,"db":1.5},{"s":"0 dB","f":14400,"db":1.85},{"s":"0 dB","f":14600,"db":1.45},{"s":"0 dB","f":14800,"db":1.9},{"s":"0 dB","f":15000,"db":1.4},{"s":"0 dB","f":15200,"db":1.9},{"s":"0 dB","f":15400,"db":1.4},{"s":"0 dB","f":15600,"db":1.95},{"s":"0 dB","f":15800,"db":1.35},{"s":"0 dB","f":16000,"db":2.0},{"s":"0 dB","f":16200,"db":1.3},{"s":"0 dB","f":16400,"db":2.0},{"s":"0 dB","f":16600,"db":1.25},{"s":"0 dB","f":16800,"db":2.1},{"s":"0 dB","f":17000,"db":1.2},{"s":"0 dB","f":17200,"db":2.2},{"s":"0 dB","f":17400,"db":1.1},{"s":"0 dB","f":17600,"db":2.3},{"s":"0 dB","f":17800,"db":1.0},{"s":"0 dB","f":18000,"db":2.4},{"s":"0 dB","f":18200,"db":0.9},{"s":"0 dB","f":18400,"db":2.5},{"s":"0 dB","f":18600,"db":0.8},{"s":"0 dB","f":18800,"db":2.7},{"s":"0 dB","f":19000,"db":0.6},{"s":"0 dB","f":19150,"db":2.9},{"s":"0 dB","f":19300,"db":0.4},{"s":"0 dB","f":19450,"db":3.2},{"s":"0 dB","f":19600,"db":0.2},{"s":"0 dB","f":19700,"db":3.5},{"s":"0 dB","f":19800,"db":-0.1},{"s":"0 dB","f":19870,"db":3.9},{"s":"0 dB","f":19930,"db":-0.6},{"s":"0 dB","f":19970,"db":4.3},{"s":"0 dB","f":20050,"db":-2.0},
          {"s":"0 dB","f":20350,"db":-16.5},{"s":"0 dB","f":20640,"db":-30.3},{"s":"0 dB","f":20920,"db":-39.6},{"s":"0 dB","f":21320,"db":-45.4},{"s":"0 dB","f":21900,"db":-50.0},{"s":"0 dB","f":22300,"db":-51.5},{"s":"0 dB","f":22800,"db":-54.6},{"s":"0 dB","f":23000,"db":-52.8},{"s":"0 dB","f":23300,"db":-57.2},{"s":"0 dB","f":23500,"db":-55.0},{"s":"0 dB","f":23750,"db":-59.2},{"s":"0 dB","f":23900,"db":-56.5},{"s":"0 dB","f":24080,"db":-60.0}
        ]
      },
      "mark": {"type": "line", "strokeWidth": 1, "clip": true},
      "encoding": {
        "x": {
          "field": "f",
          "type": "quantitative",
          "scale": {"type": "log", "domain": [2.92, 43500], "nice": false},
          "axis": {
            "orient": "bottom",
            "title": "Frequency(Hz)",
            "titlePadding": 4,
            "values": [3,4,5,6,7,8,9,10,20,30,40,50,60,70,80,90,100,200,300,400,500,600,700,800,900,1000,2000,3000,4000,5000,6000,7000,8000,9000,10000,20000,30000,40000],
            "labelExpr": "datum.value == 10 ? '10¹' : datum.value == 100 ? '10²' : datum.value == 1000 ? '10³' : datum.value == 10000 ? '10⁴' : ''",
            "labelOverlap": false,
            "labelFlush": false,
            "labelPadding": 22,
            "tickSize": {"condition": {"test": "datum.value == 10 || datum.value == 100 || datum.value == 1000 || datum.value == 10000", "value": -12}, "value": -6},
            "grid": true,
            "gridColor": {"condition": {"test": "datum.value == 10 || datum.value == 100 || datum.value == 1000 || datum.value == 10000", "value": "#dcdcdc"}, "value": "#c4c4c4"},
            "gridDash": {"condition": {"test": "datum.value == 10 || datum.value == 100 || datum.value == 1000 || datum.value == 10000", "value": [1, 0]}, "value": [1, 3]}
          }
        },
        "y": {
          "field": "db",
          "type": "quantitative",
          "scale": {"domain": [-79.3, 38.8], "nice": false, "zero": false},
          "axis": {
            "orient": "left",
            "title": "Magnitude(dB)",
            "titlePadding": 5,
            "values": [-70, -60, -50, -40, -30, -20, -10, 0, 10, 20, 30],
            "tickSize": -12,
            "labelPadding": 19,
            "grid": true,
            "gridColor": "#dcdcdc"
          }
        },
        "color": {
          "field": "s",
          "type": "nominal",
          "scale": {
            "domain": ["-30dB", "-24dB", "-18dB", "-15dB", "-12dB", "- 9 dB", "- 6 dB", "- 3 dB", "0 dB"],
            "range": ["#0072BD", "#D95319", "#EDB120", "#7E2F8E", "#77AC30", "#4DBEEE", "#A2142F", "#0072BD", "#D95319"]
          },
          "legend": {
            "title": null,
            "orient": "top-right",
            "offset": 16,
            "fillColor": "white",
            "strokeColor": "#262626",
            "padding": 4,
            "cornerRadius": 0,
            "symbolType": "M-1,0H3.62",
            "symbolSize": 300,
            "symbolStrokeWidth": 1,
            "symbolOpacity": 1,
            "labelFont": "Liberation Sans",
            "labelFontSize": 12.5,
            "labelColor": "#000000",
            "labelOffset": 26.7,
            "rowPadding": 1.6
          }
        },
        "opacity": {"condition": {"test": "datum.s === '-24dB'", "value": 0.6}, "value": 1}
      }
    },
    {
      "mark": {"type": "point", "opacity": 0},
      "encoding": {
        "x": {
          "datum": 10,
          "type": "quantitative",
          "scale": {"type": "log", "domain": [2.92, 43500], "nice": false},
          "axis": {
            "orient": "top",
            "title": null,
            "labels": false,
            "grid": false,
            "values": [3,4,5,6,7,8,9,10,20,30,40,50,60,70,80,90,100,200,300,400,500,600,700,800,900,1000,2000,3000,4000,5000,6000,7000,8000,9000,10000,20000,30000,40000],
            "tickSize": {"condition": {"test": "datum.value == 10 || datum.value == 100 || datum.value == 1000 || datum.value == 10000", "value": -12}, "value": -6}
          }
        },
        "y": {
          "datum": 0,
          "type": "quantitative",
          "scale": {"domain": [-79.3, 38.8], "nice": false, "zero": false},
          "axis": {
            "orient": "right",
            "title": null,
            "labels": false,
            "grid": false,
            "values": [-70, -60, -50, -40, -30, -20, -10, 0, 10, 20, 30],
            "tickSize": -12
          }
        }
      }
    }
  ],
  "resolve": {"axis": {"x": "independent", "y": "independent"}}
}
